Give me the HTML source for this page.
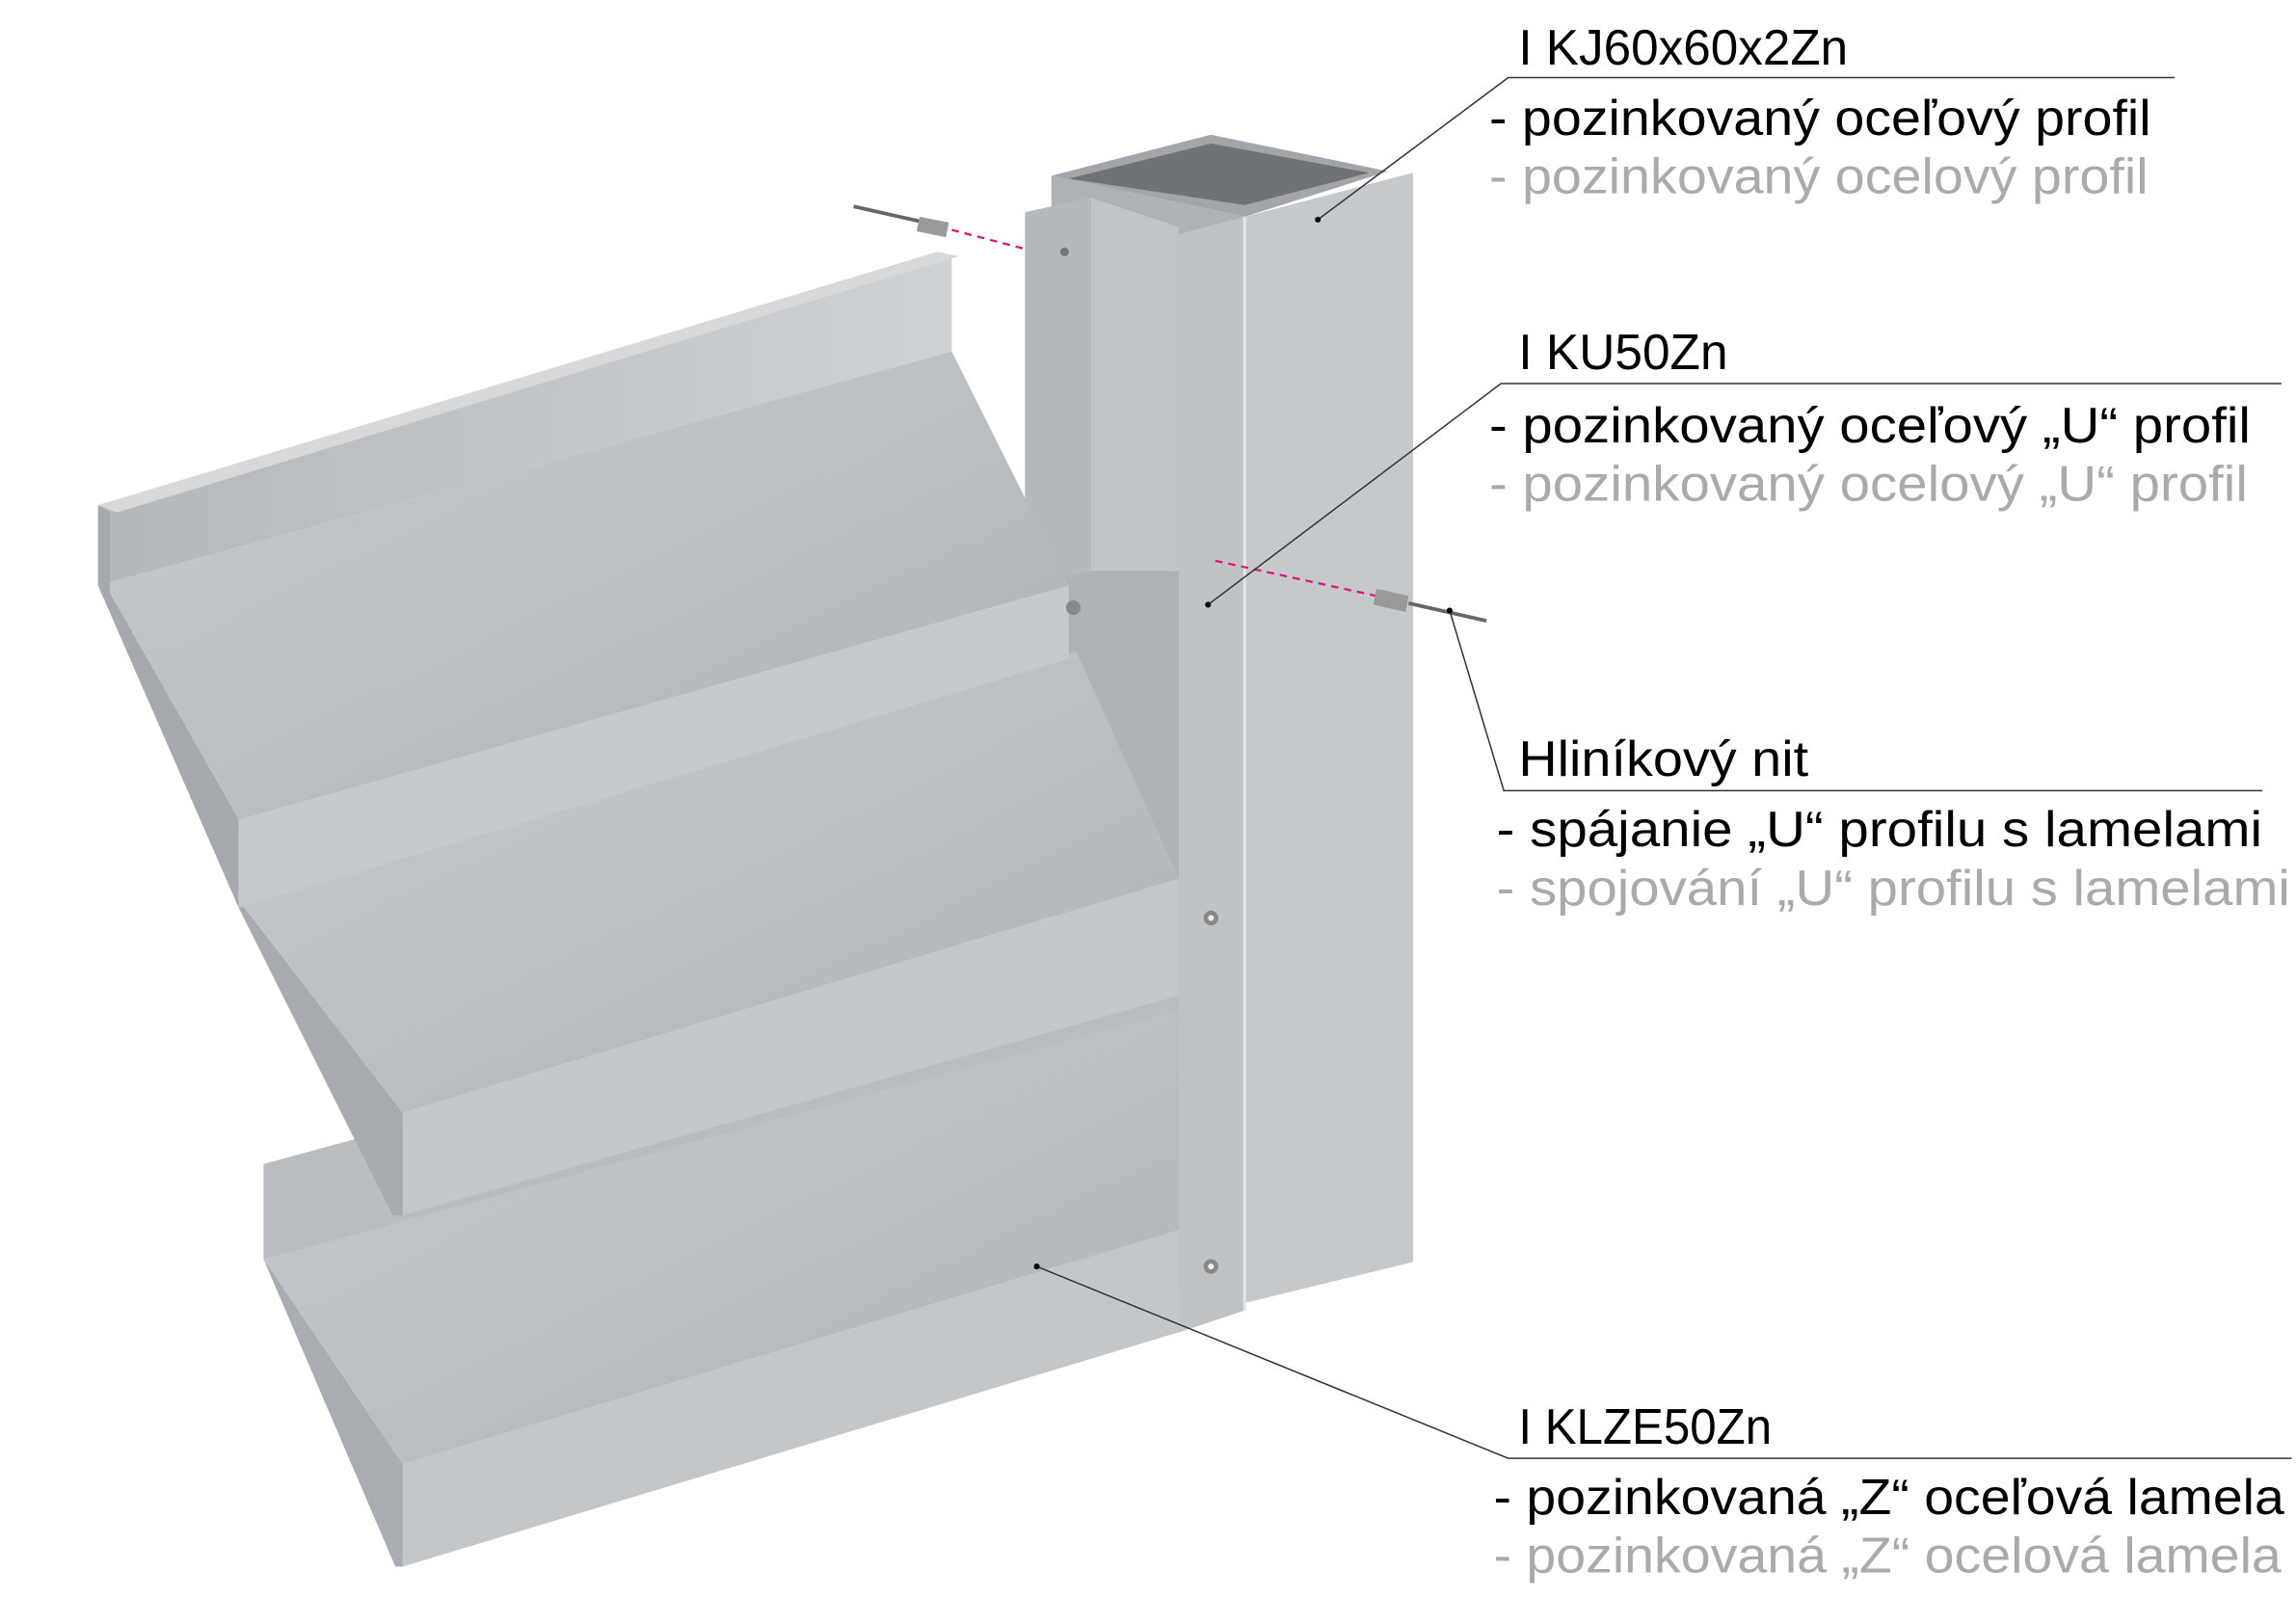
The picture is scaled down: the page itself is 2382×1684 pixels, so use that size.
<!DOCTYPE html>
<html><head><meta charset="utf-8"><style>
html,body{margin:0;padding:0;background:#fff;}
svg{display:block}
text{font-family:"Liberation Sans",sans-serif;}
</style></head><body>
<svg width="2382" height="1684" viewBox="0 0 1568 1108.5" xmlns="http://www.w3.org/2000/svg">
<defs>
<linearGradient id="g1" x1="0" y1="0" x2="1" y2="1"><stop offset="0" stop-color="#c9ccd0"/><stop offset="1" stop-color="#aeb2b6"/></linearGradient>
<linearGradient id="g2" x1="0" y1="0" x2="1" y2="0"><stop offset="0" stop-color="#b4b8bc"/><stop offset="1" stop-color="#cfd2d5"/></linearGradient>
</defs>
<!-- tube -->
<polygon points="718,120 827,92 948,117 850,148" fill="#a2a6aa"/>
<polygon points="730,122 827,98 935,118 850,140" fill="#6f7377"/>
<polygon points="850,148 965,118 965,862 850,890" fill="#c6c9cc"/>
<polygon points="718,120 850,148 850,890 718,860" fill="#aeb2b6"/>
<!-- U profile -->
<polygon points="700,145 745,135 745,390 700,400" fill="#b5b9bd"/>
<polygon points="745,135 805,155 805,390 745,390" fill="#c2c5c8"/>
<polygon points="805,160 850,148 850,895 805,910" fill="#bfc3c6"/>
<!-- lamella 3 -->
<polygon points="180,795 805,625 805,700 180,860" fill="#b9bdc1"/>
<polygon points="180,860 805,690 805,840 275,1000" fill="url(#g1)"/>
<polygon points="275,1000 805,840 805,910 275,1070" fill="#c4c7ca"/>
<polygon points="180,795 180,860 275,1000 275,1070 270,1070 180,860" fill="#a9adb1"/>
<!-- lamella 2 -->
<polygon points="163,615 735,445 805,600 275,760" fill="url(#g1)"/>
<polygon points="275,760 805,600 805,680 275,830" fill="#c5c8cb"/>
<polygon points="163,615 275,760 275,830 268,830 163,620" fill="#a7abaf"/>
<!-- lamella 1 -->
<polygon points="67,345 650,175 650,240 67,400" fill="url(#g2)"/>
<polygon points="67,345 640,172 655,175 80,350" fill="#d6d8da"/>
<polygon points="67,400 650,240 730,400 163,560" fill="url(#g1)"/>
<polygon points="163,560 730,400 730,450 163,620" fill="#c7cacd"/>
<polygon points="67,345 75,350 75,405 163,560 163,620 67,400" fill="#a5a9ad"/>
<!-- U lower flange -->
<polygon points="805,380 850,370 850,895 805,910" fill="#bfc3c6"/>
<line x1="850" y1="148" x2="850" y2="895" stroke="#e4e6e8" stroke-width="2"/>
<!-- rivet heads -->
<circle cx="827" cy="627" r="5" fill="#888"/><circle cx="827" cy="627" r="2" fill="#eee"/>
<circle cx="827" cy="865" r="5" fill="#888"/><circle cx="827" cy="865" r="2" fill="#eee"/>
<circle cx="733" cy="415" r="5" fill="#888"/>
<circle cx="727" cy="172" r="3" fill="#777"/>
<!-- rivets & dashed -->
<line x1="650" y1="157" x2="700" y2="170" stroke="#e0147c" stroke-width="1.5" stroke-dasharray="5,4"/>
<line x1="583" y1="141" x2="632" y2="152" stroke="#666" stroke-width="2.5"/>
<polygon points="628,148 648,152 646,162 626,158" fill="#999"/>
<line x1="830" y1="383" x2="940" y2="407" stroke="#e0147c" stroke-width="1.5" stroke-dasharray="5,4"/>
<polygon points="940,402 962,407 960,418 938,413" fill="#999"/>
<line x1="962" y1="412" x2="1015" y2="424" stroke="#666" stroke-width="2.5"/>
<!-- leaders -->
<g stroke="#333" stroke-width="1" fill="none">
<polyline points="900,150 1030,53 1485,53"/>
<polyline points="825,413 1025,262 1558,262"/>
<polyline points="990,417 1027,540 1545,540"/>
<polyline points="708,865 1030,996 1565,996"/>
</g>
<g fill="#000"><circle cx="900" cy="150" r="2"/><circle cx="825" cy="413" r="2"/><circle cx="990" cy="417" r="2"/><circle cx="708" cy="865" r="2"/></g>
<!-- text -->
<g font-size="34">
<text x="1037" y="44" textLength="225" lengthAdjust="spacingAndGlyphs">I KJ60x60x2Zn</text>
<text x="1017" y="92" textLength="452" lengthAdjust="spacingAndGlyphs">- pozinkovaný oceľový profil</text>
<text x="1017" y="132" fill="#aaaaaa" textLength="450" lengthAdjust="spacingAndGlyphs">- pozinkovaný ocelový profil</text>
<text x="1037" y="252" textLength="143" lengthAdjust="spacingAndGlyphs">I KU50Zn</text>
<text x="1017" y="302" textLength="520" lengthAdjust="spacingAndGlyphs">- pozinkovaný oceľový „U“ profil</text>
<text x="1017" y="342" fill="#aaaaaa" textLength="518" lengthAdjust="spacingAndGlyphs">- pozinkovaný ocelový „U“ profil</text>
<text x="1037" y="530" textLength="198" lengthAdjust="spacingAndGlyphs">Hliníkový nit</text>
<text x="1022" y="578" textLength="523" lengthAdjust="spacingAndGlyphs">- spájanie „U“ profilu s lamelami</text>
<text x="1022" y="618" fill="#aaaaaa" textLength="542" lengthAdjust="spacingAndGlyphs">- spojování „U“ profilu s lamelami</text>
<text x="1037" y="986" textLength="173" lengthAdjust="spacingAndGlyphs">I KLZE50Zn</text>
<text x="1020" y="1034" textLength="540" lengthAdjust="spacingAndGlyphs">- pozinkovaná „Z“ oceľová lamela</text>
<text x="1020" y="1074" fill="#aaaaaa" textLength="538" lengthAdjust="spacingAndGlyphs">- pozinkovaná „Z“ ocelová lamela</text>
</g>
</svg>
</body></html>
